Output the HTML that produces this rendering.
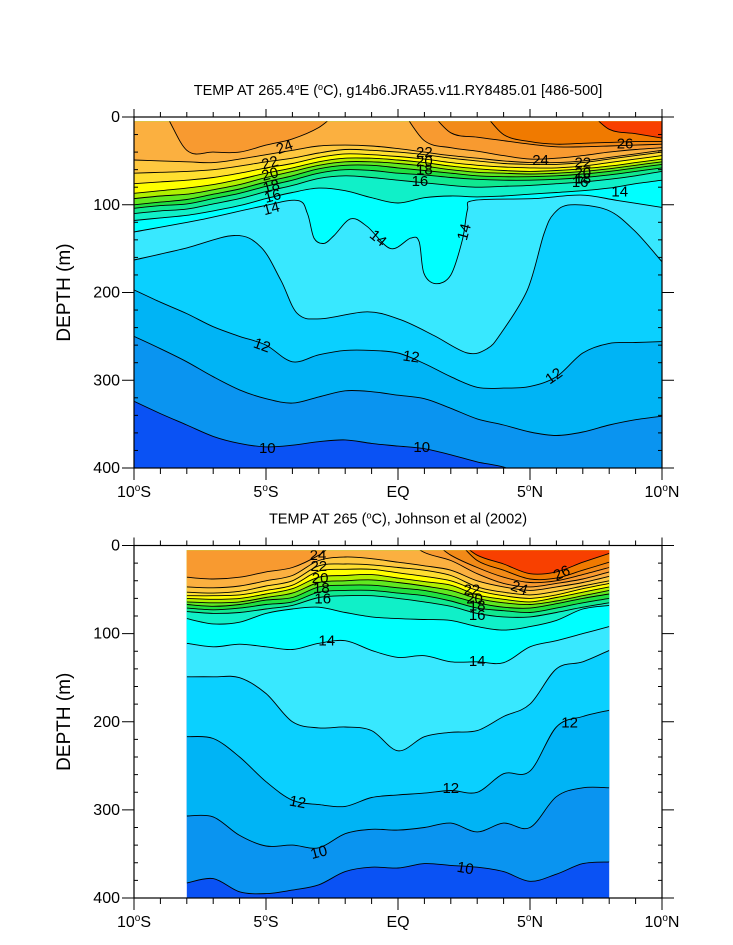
<!DOCTYPE html>
<html><head><meta charset="utf-8"><style>
body{margin:0;background:#fff}
svg{display:block;font-family:"Liberation Sans",sans-serif}
</style></head><body>
<svg id="chart" width="733" height="945" viewBox="0 0 733 945"></svg>
<script>
// ---------- data ----------
const bandColors=["#0a52f4","#0a94f0","#00b4f5","#0ad0ff","#38e8ff","#00ffff","#10f0c8","#10e890","#20e040","#60e820","#b0f000","#ffff00","#ffdf30","#fec840","#fbb040","#f89a30","#f28a18","#f07a00","#f84000"];
const topLats=[-10,-9,-8,-7,-6,-5,-4,-3,-2,-1,0,1,2,3,4,5,6,7,8,9,10];
const top10=[324,338,351,364,372,376,374,370,368,372,375,378,385,393,399,410,420,428,434,438,440];
const top11=[250,264,279,296,311,321,326,319,312,313,317,321,332,344,351,359,363,359,351,345,341];
const top12=[197,211,224,239,250,260,279,271,266,266,269,281,296,308,309,307,296,269,258,257,256];
const top13Lats=[-10,-8.1,-6.2,-5.2,-4.44,-3.81,-2.93,-1.16,0.1,1.36,2.63,3.38,3.89,4.9,5.53,5.91,6.54,7.93,8.94,10];
const top13=[163,150,135,148,186,224,230,222,231,249,269,264,247,197,133,110,100,106,129,165];
const top14Lats=[-10,-7.47,-5.2,-3.81,-3.43,-3.18,-2.8,-2.42,-1.79,-1.16,-0.28,0.48,0.8,0.98,1.43,2.0,2.44,2.63,2.88,5.15,6.92,8.3,10];
const top14=[131,117,102,95,110,138,144,135,116,125,150,138,142,178,190,180,140,106,95,93,89,95,103];
const top15=[118,115,112,107,101,93,86,81,84,92,98,92,90,91,90,88,86,84,81,76,72];
const top16=[110,107,105,99,93,85,78,70,67,69,72,75,78,80,79,78,76,74,71,67,62];
const top17=[104,101,99,93,87,79,72,64,60,61,64,66,69,71,72,72,71,69,66,62,58];
const top18=[100,97,94,88,82,74,67,59,55,55,58,61,64,67,68,68,67,65,62,58,54];
const top19=[93,90,88,83,77,69,62,55,51,51,53,56,60,63,64,65,64,62,59,55,51];
const top20=[87,84,81,77,71,64,58,51,47,47,49,52,56,59,61,62,61,59,56,52,48];
const top21=[76,74,72,69,64,58,53,46,42,43,45,48,52,55,57,58,58,56,52,48,44];
const top22=[64,63,62,60,56,51,47,41,37,38,40,43,47,50,53,54,54,52,48,44,40];
const top23=[49,50,51,52,48,43,38,33,32,33,36,40,44,47,50,52,52,50,46,42,38];
const top24=[-10,-10,38,40,40,32,25,12,-10,-10,-10,27,35,39,44,48,47,44,40,37,35];
const top25=[-10,-10,-10,-10,-10,-10,-10,-10,-10,-10,-10,-10,18,23,27,31,34,34,33,32,31];
const top26=[-10,-10,-10,-10,-10,-10,-10,-10,-10,-10,-10,-10,-10,-10,20,28,31,30,29,28,28];
const top27=[-10,-10,-10,-10,-10,-10,-10,-10,-10,-10,-10,-10,-10,-10,-10,-10,-10,-10,14,19,24];

const botLats=[-8,-7,-6,-5,-4,-3,-2,-1,0,1,2,3,4,5,6,7,8];
const bot10=[383,378,393,395,391,385,370,365,366,361,363,365,370,381,373,361,359];
const bot11=[307,308,329,341,340,343,327,322,323,320,315,325,315,320,285,275,275];
const bot12=[217,219,240,268,289,294,296,286,283,281,278,280,259,256,206,194,187];
const bot13=[149,149,150,168,200,207,206,210,233,217,212,210,194,180,140,132,119];
const bot14=[111,115,112,115,118,111,108,119,127,125,132,132,133,115,108,100,92];
const bot15=[83,89,87,77,72,70,76,81,83,84,85,92,96,92,85,72,68];
const bot16=[75,77,76,72,68,59,57,57,60,64,69,77,81,81,76,70,65];
const bot17=[71,73,71,67,64,53,51,51,54,57,63,71,74,76,71,65,60];
const bot18=[67,69,67,62,59,47,45,45,48,51,57,65,70,71,66,60,55];
const bot19=[64,65,64,59,54,42,40,39,42,46,51,60,65,67,63,57,51];
const bot20=[60,61,60,55,49,36,34,33,37,41,45,56,61,64,59,53,47];
const bot21=[57,57,56,51,45,29,27,27,31,35,40,51,57,60,56,49,43];
const bot22=[53,54,52,46,40,23,21,22,25,28,34,47,53,56,52,46,40];
const bot23=[47,48,46,40,34,17,13,15,19,23,28,40,47,51,47,42,35];
const bot24=[36,38,36,30,25,11,-10,-10,-10,8,17,32,43,47,43,38,30];
const bot25=[-10,-10,-10,-10,-10,-10,-10,-10,-10,-10,11,25,36,42,40,33,25];
const bot26=[-10,-10,-10,-10,-10,-10,-10,-10,-10,-10,-10,17,28,38,37,28,19];
const bot27=[-10,-10,-10,-10,-10,-10,-10,-10,-10,-10,-10,11,21,32,30,19,9];

const topLabelLats=[-4.3,-4.85,-4.85,-4.8,-4.75,-4.8,1.0,1.0,1.0,0.83,5.4,7.0,7.0,7.0,6.9,8.4,8.6,-0.75,2.5,-5.15,0.5,5.9,-4.95,0.9];
const topLabelDepths=[34,52,65,79,90,104,40,50,60,73,49,52,63,70,74,85,30,138,131,260,273,295,377,376];
const topLabelTexts=["24","22","20","18","16","14","22","20","18","16","24","22","20","18","16","14","26","14","14","12","12","12","10","10"];
const topLabelAngles=[-20,-15,-15,-15,-15,-15,0,0,0,0,0,0,0,0,0,0,0,40,-75,20,8,-35,0,0];
const botLabelLats=[-3.03,-3.0,-2.95,-2.9,-2.85,-2.7,-3.8,-3.0,2.8,2.9,3.0,3.0,3.0,4.6,6.2,2.0,6.5,2.55];
const botLabelDepths=[11,23,37,48,60,108,291,348,50,60,68,79,131,48,31,275,201,366];
const botLabelTexts=["24","22","20","18","16","14","12","10","22","20","18","16","14","24","26","12","12","10"];
const botLabelAngles=[0,0,0,0,0,0,10,-15,0,0,0,0,0,20,-25,0,0,10];

// ---------- drawing ----------
const NS="http://www.w3.org/2000/svg";
const svg=document.getElementById("chart");
function mk(tag,attrs,parent){const e=document.createElementNS(NS,tag);for(const k in attrs)e.setAttribute(k,attrs[k]);(parent||svg).appendChild(e);return e;}

function panel(cfg){
  const xS=lat=>cfg.x0+(lat+10)/20*(cfg.x1-cfg.x0);
  const yS=d=>cfg.y0+d/400*(cfg.y1-cfg.y0);
  const g=mk("g",{});
  
  
  const clipId=cfg.name+"-clip";
  const defs=mk("defs",{},g);
  const cp=mk("clipPath",{id:clipId},defs);
  mk("rect",{x:xS(cfg.latMin),y:yS(cfg.dMin),width:xS(cfg.latMax)-xS(cfg.latMin),height:yS(400)-yS(cfg.dMin)},cp);
  const plot=mk("g",{"clip-path":"url(#"+clipId+")"},g);
  const base=mk("rect",{x:cfg.x0,y:cfg.y0,width:cfg.x1-cfg.x0,height:cfg.y1-cfg.y0,fill:bandColors[0]},plot);
  
  
  function curve(lats,ds){
    const p=lats.map((l,i)=>[xS(l),yS(ds[i])]);
    let s="M"+p[0][0].toFixed(1)+","+p[0][1].toFixed(1);
    for(let i=0;i<p.length-1;i++){
      const p0=p[Math.max(0,i-1)],p1=p[i],p2=p[i+1],p3=p[Math.min(p.length-1,i+2)];
      const c1=[p1[0]+(p2[0]-p0[0])/6,p1[1]+(p2[1]-p0[1])/6];
      const c2=[p2[0]-(p3[0]-p1[0])/6,p2[1]-(p3[1]-p1[1])/6];
      s+="C"+c1[0].toFixed(1)+","+c1[1].toFixed(1)+" "+c2[0].toFixed(1)+","+c2[1].toFixed(1)+" "+p2[0].toFixed(1)+","+p2[1].toFixed(1);
    }
    return {s,first:p[0],last:p[p.length-1]};
  }
  const lines=[];
  cfg.contours.forEach(c=>{
    const cv=curve(c.lats,c.d);
    const top=yS(-40);
    const f=mk("path",{d:cv.s+"L"+(cv.last[0]+30)+","+cv.last[1]+"L"+(cv.last[0]+30)+","+top+"L"+(cv.first[0]-30)+","+top+"L"+(cv.first[0]-30)+","+cv.first[1]+"Z",fill:bandColors[c.level-9]},plot);
    
    
    lines.push([c.level,cv.s]);
  });
  lines.forEach(([lv,s])=>{
    const l=mk("path",{d:s,fill:"none",stroke:"#000","stroke-width":0.9},plot);
    
    
  });
  cfg.labLats.forEach((la,i)=>{
    const x=xS(la),y=yS(cfg.labDepths[i]);
    const t=mk("text",{x:x,y:y+5,"font-size":15,"text-anchor":"middle",transform:"rotate("+cfg.labAngles[i]+" "+x+" "+y+")"},plot);
    t.textContent=cfg.labTexts[i];
    
    
  });
  const fr=mk("rect",{x:cfg.x0,y:cfg.y0,width:cfg.x1-cfg.x0,height:cfg.y1-cfg.y0,fill:"none",stroke:"#000","stroke-width":1.2},g);
  
  
  for(let la=-10;la<=10;la++){
    const x=xS(la),maj=la%5===0,L=maj?12:6;
    mk("line",{x1:x,x2:x,y1:cfg.y1,y2:cfg.y1+L,stroke:"#000","stroke-width":1},g);
    mk("line",{x1:x,x2:x,y1:cfg.y0,y2:cfg.y0-(maj?8:5),stroke:"#000","stroke-width":1},g);
  }
  const latLabels=[[-10,"10","S"],[-5,"5","S"],[0,"EQ",""],[5,"5","N"],[10,"10","N"]];
  latLabels.forEach(([la,n,h])=>{
    const t=mk("text",{x:xS(la),y:cfg.y1+29,"font-size":16,"text-anchor":"middle"},g);
    
    
    if(h){t.appendChild(document.createTextNode(n));const s=mk("tspan",{dy:-6,"font-size":10},t);s.textContent="o";const s2=mk("tspan",{dy:6},t);s2.textContent=h;}
    else t.textContent=n;
  });
  for(let d=0;d<=400;d+=20){
    const y=yS(d),maj=d%100===0;
    if(maj){
      mk("line",{x1:cfg.x0-12,x2:cfg.x0,y1:y,y2:y,stroke:"#000","stroke-width":1},g);
      mk("line",{x1:cfg.x1,x2:cfg.x1+12,y1:y,y2:y,stroke:"#000","stroke-width":1},g);
      const t=mk("text",{x:cfg.x0-14,y:y+5,"font-size":16,"text-anchor":"end"},g);
      t.textContent=String(d);
      
      
    }else{
      mk("line",{x1:cfg.x0,x2:cfg.x0+4,y1:y,y2:y,stroke:"#000","stroke-width":1},g);
      mk("line",{x1:cfg.x1-4,x2:cfg.x1,y1:y,y2:y,stroke:"#000","stroke-width":1},g);
    }
  }
  const yt=mk("text",{x:0,y:0,"font-size":19,"text-anchor":"middle",transform:"translate(70,"+((cfg.y0+cfg.y1)/2)+") rotate(-90)"},g);
  yt.textContent="DEPTH (m)";
  
  
  const tt=mk("text",{x:(cfg.x0+cfg.x1)/2,y:cfg.y0-22,"font-size":14.5,"text-anchor":"middle"},g);
  
  
  cfg.title.forEach((part,i)=>{
    if(i>0){const s=mk("tspan",{dy:-5,"font-size":9},tt);s.textContent="o";const s2=mk("tspan",{dy:5},tt);s2.textContent=part;}
    else tt.appendChild(document.createTextNode(part));
  });
}

function mkContours(lats,arrs,lv0,special){
  const out=[];
  arrs.forEach((a,i)=>{const lv=lv0+i;const sp=special[lv];out.push(sp?{level:lv,lats:sp[0],d:sp[1]}:{level:lv,lats:lats,d:a});});
  return out;
}

panel({name:"model-panel",x0:134,x1:662,y0:117,y1:468,latMin:-10,latMax:10,dMin:5,
  contours:mkContours(topLats,[top10,top11,top12,null,null,top15,top16,top17,top18,top19,top20,top21,top22,top23,top24,top25,top26,top27],10,{13:[top13Lats,top13],14:[top14Lats,top14]}),
  labLats:topLabelLats,labDepths:topLabelDepths,labTexts:topLabelTexts,labAngles:topLabelAngles,
  title:["TEMP AT 265.4","E (","C), g14b6.JRA55.v11.RY8485.01 [486-500]"]});
panel({name:"observed-panel",x0:134,x1:662,y0:545.5,y1:898,latMin:-8,latMax:8,dMin:5.5,
  contours:mkContours(botLats,[bot10,bot11,bot12,bot13,bot14,bot15,bot16,bot17,bot18,bot19,bot20,bot21,bot22,bot23,bot24,bot25,bot26,bot27],10,{}),
  labLats:botLabelLats,labDepths:botLabelDepths,labTexts:botLabelTexts,labAngles:botLabelAngles,
  title:["TEMP AT 265 (","C), Johnson et al (2002)"]});
</script>
</body></html>
